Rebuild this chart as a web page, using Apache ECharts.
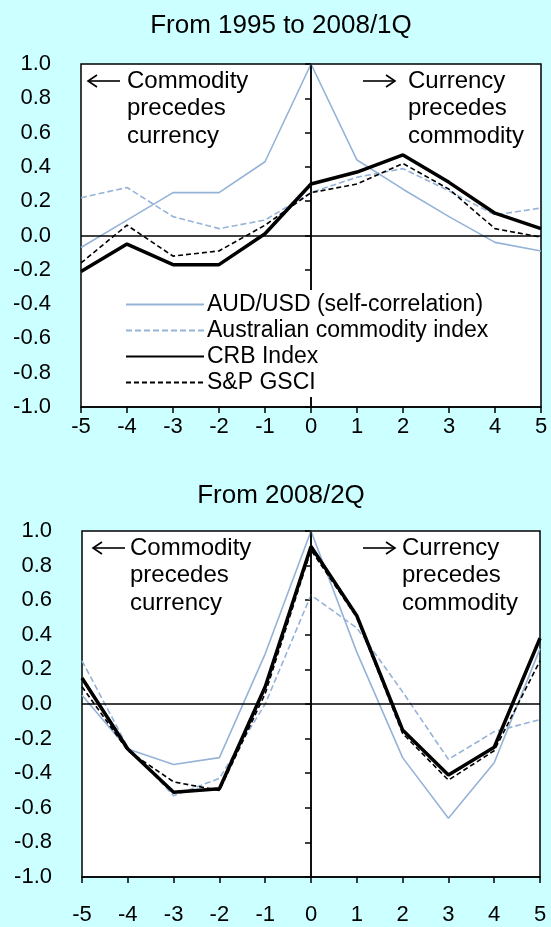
<!DOCTYPE html>
<html>
<head>
<meta charset="utf-8">
<script src="https://cdn.jsdelivr.net/npm/echarts@6/dist/echarts.min.js"></script>
<style>
html,body{margin:0;padding:0;background:#ccffff;}
#c{width:551px;height:927px;}
</style>
</head>
<body>
<div id="c"></div>
<script>
var lags = [-5,-4,-3,-2,-1,0,1,2,3,4,5];
var seriesNames = ['AUD/USD (self-correlation)','Australian commodity index','CRB Index','S&P GSCI'];
var yTicks = [-1.0,-0.8,-0.6,-0.4,-0.2,0.0,0.2,0.4,0.6,0.8,1.0];

// Panel 1: From 1995 to 2008/1Q
var p1Aud = [-0.07,0.09,0.25,0.25,0.43,1.00,0.44,0.27,0.11,-0.04,-0.09];
var p1Aus = [0.22,0.28,0.11,0.04,0.09,0.25,0.34,0.39,0.26,0.12,0.16];
var p1Crb = [-0.21,-0.05,-0.17,-0.17,0.01,0.30,0.37,0.47,0.31,0.13,0.04];
var p1Gsci = [-0.16,0.06,-0.12,-0.09,0.06,0.25,0.30,0.42,0.27,0.04,-0.01];

// Panel 2: From 2008/2Q
var p2Aud = [0.05,-0.26,-0.35,-0.31,0.29,1.00,0.30,-0.31,-0.66,-0.34,0.32];
var p2Aus = [0.25,-0.25,-0.53,-0.43,0.00,0.63,0.44,0.07,-0.32,-0.16,-0.09];
var p2Crb = [0.15,-0.26,-0.51,-0.49,0.10,0.91,0.51,-0.15,-0.41,-0.25,0.38];
var p2Gsci = [0.10,-0.27,-0.45,-0.50,0.06,0.89,0.50,-0.17,-0.44,-0.27,0.25];

var titles = ['From 1995 to 2008/1Q','From 2008/2Q'];
var leftNote = ['Commodity','precedes','currency'];
var rightNote = ['Currency','precedes','commodity'];

var FONT = '"Liberation Sans", Arial, sans-serif';
var LB = '#95b3d7';

function pairs(v){ return lags.map(function(l,i){ return [l, v[i]]; }); }

var styles = [
  {color: LB, width: 1.6, type: 'solid'},
  {color: LB, width: 1.6, type: [6,3]},
  {color: '#000', width: 3.5, type: 'solid'},
  {color: '#000', width: 1.6, type: [5,3]}
];

var panels = [[p1Aud,p1Aus,p1Crb,p1Gsci],[p2Aud,p2Aus,p2Crb,p2Gsci]];
var grids = [
  {left: 81, top: 64, width: 460, height: 343, show: true, backgroundColor: '#fff', borderColor: '#000', borderWidth: 1.5},
  {left: 82, top: 531, width: 458, height: 346, show: true, backgroundColor: '#fff', borderColor: '#000', borderWidth: 1.5}
];
var xLabelMargin = [9, 27];

var xAxes = [], yAxes = [], series = [];
for (var g = 0; g < 2; g++) {
  xAxes.push({
    type: 'value', gridIndex: g, min: -5, max: 5, interval: 1,
    axisLine: {onZero: false, lineStyle: {color: '#000', width: 1.5}},
    axisTick: {show: true, inside: false, length: 6, lineStyle: {color: '#000', width: 1.5}},
    axisLabel: {color: '#000', fontFamily: FONT, fontSize: 22, margin: xLabelMargin[g]},
    splitLine: {show: false}
  });
  yAxes.push({
    type: 'value', gridIndex: g, min: -1, max: 1, interval: 0.2,
    axisLine: {show: true, lineStyle: {color: '#000', width: 1.5}},
    axisTick: {show: true, inside: false, length: 6, lineStyle: {color: '#000', width: 1.5}},
    axisLabel: {color: '#000', fontFamily: FONT, fontSize: 22, margin: 30,
      formatter: function(v){ return (Math.round(v*10)/10).toFixed(1); }},
    splitLine: {show: false}
  });
  for (var s = 0; s < 4; s++) {
    var ser = {
      type: 'line', name: seriesNames[s], xAxisIndex: g, yAxisIndex: g,
      data: pairs(panels[g][s]), symbol: 'none', showSymbol: false, silent: true,
      lineStyle: styles[s], itemStyle: {color: styles[s].color},
      z: 3 + (s === 2 ? 1 : 0), animation: false
    };
    if (s === 0) {
      ser.markLine = {
        silent: true, symbol: 'none', animation: false,
        label: {show: false},
        lineStyle: {color: '#000', width: 1.5, type: 'solid'},
        data: [{xAxis: 0}, {yAxis: 0}]
      };
    }
    series.push(ser);
  }
}

var graphics = [];
var notePos = [
  {lx1: 88, lx2: 120, tx: 127, rx1: 363, rx2: 395, rtx: 408, y0: 81},
  {lx1: 93, lx2: 125, tx: 130, rx1: 363, rx2: 395, rtx: 402, y0: 548}
];
function arrow(x1, x2, y, dir) {
  var tip = dir < 0 ? x1 : x2;
  var back = tip - dir * 9;
  graphics.push({type: 'line', shape: {x1: x1, y1: y, x2: x2, y2: y}, style: {stroke: '#000', lineWidth: 1.6}, z: 10});
  graphics.push({type: 'polyline', shape: {points: [[back, y - 6], [tip, y], [back, y + 6]]}, style: {stroke: '#000', lineWidth: 1.6, fill: null}, z: 10});
}
for (var g2 = 0; g2 < 2; g2++) {
  var np = notePos[g2];
  arrow(np.lx1, np.lx2, np.y0, -1);
  arrow(np.rx1, np.rx2, np.y0, 1);
  for (var k = 0; k < 3; k++) {
    graphics.push({type: 'text', x: np.tx, y: np.y0 + k*27.7, style: {text: leftNote[k], font: '24px ' + FONT, fill: '#000', textVerticalAlign: 'middle'}, z: 10});
    graphics.push({type: 'text', x: np.rtx, y: np.y0 + k*27.7, style: {text: rightNote[k], font: '24px ' + FONT, fill: '#000', textVerticalAlign: 'middle'}, z: 10});
  }
}

var chart = echarts.init(document.getElementById('c'), null, {renderer: 'canvas'});
chart.setOption({
  backgroundColor: '#ccffff',
  animation: false,
  title: [
    {text: titles[0], left: 276, top: 8, textAlign: 'center', textStyle: {fontFamily: FONT, fontSize: 26, fontWeight: 'normal', color: '#000'}},
    {text: titles[1], left: 276, top: 478, textAlign: 'center', textStyle: {fontFamily: FONT, fontSize: 26, fontWeight: 'normal', color: '#000'}}
  ],
  legend: {
    show: true, orient: 'vertical', left: 119, top: 290,
    data: seriesNames, itemWidth: 78, itemHeight: 14, itemGap: 3,
    backgroundColor: '#fff', padding: [3, 6, 3, 6],
    itemStyle: {opacity: 0},
    textStyle: {fontFamily: FONT, fontSize: 23, color: '#000', padding: [0,0,0,-2]},
    selectedMode: false, z: 6
  },
  grid: grids,
  xAxis: xAxes,
  yAxis: yAxes,
  series: series,
  graphic: graphics
});
</script>
</body>
</html>
